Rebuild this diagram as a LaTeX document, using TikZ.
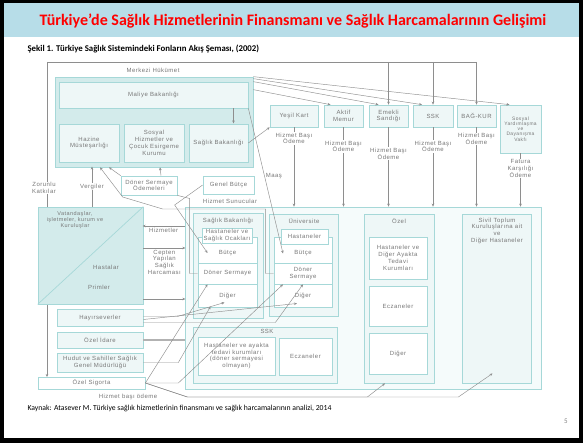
\documentclass[tikz,border=0pt]{standalone}
\usepackage{fontspec}
\setmainfont{Carlito}
\newfontfamily\dgfont[LetterSpace=8]{Liberation Sans}
\newcommand{\dgtext}{\dgfont\fontsize{6}{6.8}\selectfont}
\newcommand{\dgsmall}{\dgfont\fontsize{4.9}{5.2}\selectfont}
\newcommand{\dgmid}{\dgfont\fontsize{5.5}{6.3}\selectfont}
\usetikzlibrary{arrows.meta}
\definecolor{tealb}{HTML}{A6D8D8}
\definecolor{tealbg}{HTML}{D3EBEB}
\definecolor{palebg}{HTML}{EEF7F7}
\definecolor{outerbg}{HTML}{F5FBFB}
\definecolor{txtgray}{HTML}{777777}
\definecolor{linegray}{HTML}{8E8E8E}
\definecolor{titlebg}{HTML}{B7DDE8}

\begin{document}
\begin{tikzpicture}[x=1pt,y=-1pt,
    frame/.style={draw=tealb, line width=0.7pt},
    box/.style={frame, fill=white, font=\dgtext, text=txtgray, align=center, inner sep=0.5pt},
    grp/.style={frame, fill=palebg},
    cont/.style={frame, fill=tealbg},
    lbl/.style={font=\dgtext, text=txtgray, align=center, inner sep=0.6pt},
    line/.style={draw=linegray, line width=0.45pt},
    arr/.style={line, -{Stealth[length=3pt,width=2.6pt]}},
    sz/.style 2 args={minimum width=#1, minimum height=#2}]
  \useasboundingbox (0,0) rectangle (583,443);
  % slide
  \fill[black] (0,0) rectangle (583,443);
  \fill[white] (4,3) rectangle (579,438);
  \fill[titlebg] (4,3) rectangle (579,37);
  \node[font=\fontsize{16}{18}\selectfont\bfseries, text=red] (title) at (293,21)
    {Türkiye’de Sağlık Hizmetlerinin Finansmanı ve Sağlık Harcamalarının Gelişimi};
  \node[anchor=west, font=\fontsize{8.8}{10}\selectfont\bfseries] (sekil) at (24,48.5)
    {Şekil 1. Türkiye Sağlık Sistemindeki Fonların Akış Şeması, (2002)};
  \node[anchor=west, font=\fontsize{7.7}{9}\selectfont] (kaynak) at (24,408)
    {Kaynak: Atasever M. Türkiye sağlık hizmetlerinin finansmanı ve sağlık harcamalarının analizi, 2014};
  \node[font=\fontsize{7}{8}\selectfont, text=gray] (sayfa) at (566,421) {5};

  % zorunlu katkilar
  \coordinate (zk) at (47,62);
  \coordinate (zkend) at (47,377);
  \draw[arr] (zk) -- (zkend) node[lbl, fill=white, pos=0.4, xshift=-3pt] (zorunlu) {Zorunlu\\Katkılar};

  % merkezi hukumet
  \node[cont, sz={198}{90}] (merkezi) at (154,122) {};
  \node[lbl] (merkezilbl) at (153,70) {Merkezi Hükümet};
  \node[box, fill=palebg, sz={189}{26}] (maliye) at (153.5,95) {Maliye Bakanlığı};
  \node[box, fill=palebg, sz={60}{38}] (hazine) at (89,143) {Hazine\\Müsteşarlığı};
  \node[box, fill=palebg, sz={60}{38}] (shcek) at (154,143) {Sosyal\\Hizmetler ve\\Çocuk Esirgeme\\Kurumu};
  \node[box, fill=palebg, sz={59}{38}] (sbak) at (218.5,143) {Sağlık Bakanlığı};

  % finansman kurumlari
  \node[box, fill=palebg, sz={48}{22}] (yesil) at (294,116) {Yeşil Kart};
  \node[box, fill=palebg, sz={39}{22}] (aktif) at (343.5,116) {Aktif\\Memur};
  \node[box, fill=palebg, sz={39}{22}] (emekli) at (388.5,116) {Emekli\\Sandığı};
  \node[box, fill=palebg, sz={40}{22}] (ssk) at (433,116) {SSK};
  \node[box, fill=palebg, sz={39}{22}] (bagkur) at (476.5,116) {BAĞ-KUR};
  \node[box, fill=palebg, sz={41}{48}, font=\dgsmall] (sydv) at (520.5,129) {Sosyal\\Yardımlaşma\\ve\\Dayanışma\\Vakfı};

  % hizmet sunucular
  \node[grp, fill=outerbg, sz={356}{182}] (hizsun) at (363,298) {};
  \node[lbl] (hizsunlbl) at (230,201) {Hizmet Sunucular};

  \node[grp, sz={70}{105}] (sbgrp) at (228,265.5) {};
  \node[lbl] (sbgrplbl) at (228,221) {Sağlık Bakanlığı};
  \draw[frame, fill=white] (198,237) rectangle (257,307);
  \node[box, sz={50}{15}] (sbhast) at (227,235.5) {Hastaneler ve\\Sağlık Ocakları};
  \node[box, draw=none, fill=none, sz={59}{20}] (sbbutce) at (227.5,253) {Bütçe};
  \node[box, sz={59}{21}] (sbdoner) at (227.5,273.5) {Döner Sermaye};
  \node[box, sz={59}{23}] (sbdiger) at (227.5,295.5) {Diğer};

  \node[grp, sz={69}{102}] (unigrp) at (303.5,265) {};
  \node[lbl] (unigrplbl) at (304,221) {Üniversite};
  \draw[frame, fill=white] (274,237) rectangle (332,307);
  \node[box, sz={47}{15}] (unihast) at (304.5,236.5) {Hastaneler};
  \node[box, draw=none, fill=none, sz={58}{19}] (unibutce) at (303,253.5) {Bütçe};
  \node[box, sz={58}{21}] (unidoner) at (303,273.5) {Döner\\Sermaye};
  \node[box, sz={58}{23}] (unidiger) at (303,295.5) {Diğer};

  \node[grp, sz={144}{56}] (sskgrp) at (265,355) {};
  \node[lbl] (sskgrplbl) at (267,331.5) {SSK};
  \node[box, sz={77}{38}] (sskhast) at (236.5,356) {Hastaneler ve ayakta\\tedavi kurumları\\(döner sermayesi\\olmayan)};
  \node[box, sz={53}{37}] (sskecz) at (305.5,356.5) {Eczaneler};

  \node[grp, sz={70}{169}] (ozgrp) at (399,298.5) {};
  \node[lbl] (ozgrplbl) at (399,221) {Özel};
  \node[box, sz={58}{42}] (ozhast) at (398,258) {Hastaneler ve\\Diğer Ayakta\\Tedavi\\Kurumları};
  \node[box, sz={58}{40}] (ozecz) at (398,306) {Eczaneler};
  \node[box, sz={58}{41}] (ozdiger) at (398,353.5) {Diğer};

  \node[grp, sz={69}{169}] (sivilgrp) at (496.5,298.5) {};
  \node[lbl, anchor=north] (sivilgrplbl) at (497,217) {Sivil Toplum\\Kuruluşlarına ait\\ve\\Diğer Hastaneler};

  % sol taraf
  \node[cont, sz={105}{97}] (vatan) at (90.5,255.5) {};
  \draw[frame] (vatan.south west) -- (vatan.north east);
  \node[lbl, font=\dgmid] (vatanlbl) at (75,220) {Vatandaşlar,\\işletmeler, kurum ve\\Kuruluşlar};
  \node[lbl] (hastalar) at (106,267) {Hastalar};
  \node[lbl] (primler) at (99,287) {Primler};

  \node[box, fill=palebg, sz={86}{17}] (hayir) at (100,317.5) {Hayırseverler};
  \node[box, fill=palebg, sz={86}{16}] (ozelidare) at (100,340) {Özel İdare};
  \node[box, fill=palebg, sz={86}{19}] (hudut) at (100,362.5) {Hudut ve Sahiller Sağlık\\Genel Müdürlüğü};
  \node[box, sz={107}{12}] (ozsig) at (91.5,383) {Özel Sigorta};

  \node[box, sz={56}{19}] (dso) at (149,185.5) {Döner Sermaye\\Ödemeleri};
  \node[box, sz={51}{18}] (genel) at (228.5,185) {Genel Bütçe};

  % akislar: merkezi hukumet
  \draw[arr] ([xshift=80pt]maliye.south) -- ++(0,15);
  \draw[arr] (sbak.east) -- (yesil.south west);
  \draw[arr] (merkezi.north east) -- ([xshift=-11pt]sydv.north);
  \draw[arr] ([yshift=-2pt]merkezi.north east) -- ([xshift=-11pt]ssk.north);
  \draw[arr] ([yshift=-5pt]merkezi.north east) -- ([xshift=-10pt]emekli.north);
  \draw[arr] ([yshift=-13pt]merkezi.north east) -- ([xshift=-13pt]aktif.north);
  \draw[line] (zk) -- (zk -| bagkur.north);
  \foreach \n in {emekli,ssk,bagkur}
    \draw[arr] (zk -| \n.north) -- (\n.north);

  % hizmet basi odeme
  \draw[arr] (yesil.south) -- (yesil.south |- hizsun.north)
    node[lbl, fill=white, pos=0.14] (yesilpay) {Hizmet Başı\\Ödeme};
  \draw[arr] (aktif.south) -- (aktif.south |- hizsun.north)
    node[lbl, fill=white, pos=0.24] (aktifpay) {Hizmet Başı\\Ödeme};
  \draw[arr] (emekli.south) -- (emekli.south |- hizsun.north)
    node[lbl, fill=white, pos=0.33] (emeklipay) {Hizmet Başı\\Ödeme};
  \draw[arr] (ssk.south) -- (ssk.south |- hizsun.north)
    node[lbl, fill=white, pos=0.24] (sskpay) {Hizmet Başı\\Ödeme};
  \draw[arr] (bagkur.south) -- (bagkur.south |- hizsun.north)
    node[lbl, fill=white, pos=0.15] (bagkurpay) {Hizmet Başı\\Ödeme};
  \draw[arr] (sydv.south) -- (sydv.south |- hizsun.north)
    node[lbl, fill=white, pos=0.28] (sydvpay) {Fatura\\Karşılığı\\Ödeme};

  % butce ve doner sermaye
  \draw[arr] (maliye.south east) -- ([xshift=-20pt]unibutce.center);
  \node[lbl, anchor=west] (maas) at (265,176) {Maaş};
  \draw[arr] ([xshift=1.5pt]vatan.north) -- ++(0,-40)
    node[lbl, fill=white, pos=0.5] (vergiler) {Vergiler};
  \draw[arr] (dso.north west) -- ([xshift=-45pt]merkezi.south);
  \draw[arr] ([xshift=12pt]dso.north) -- ([xshift=6pt]merkezi.south);
  \draw[line] (sbdoner.west) -- ++(-8,0) -- ++(0,-75) -- (dso.south east);
  \draw[arr] (unidoner.west) -- ++(-8,0) -- ++(0,-64.5) -- ++(-103,0) -- ++(-40,-12)
    -- ([xshift=-54pt]merkezi.south);
  \draw[arr] (genel.west) -- ++(-28,20) -- ([xshift=-20pt]sbbutce.center);

  % vatandaslar
  \draw[arr] (hizsun.west) ++(0,-72) -- ++(-42,0)
    node[lbl, midway, below=1pt] (hizmetler) {Hizmetler};
  \draw[arr] (vatan.east) ++(0,-7.5) -- ++(42,0)
    node[lbl, midway, below=1pt] (cepten) {Cepten\\Yapılan\\Sağlık\\Harcaması};
  \draw[arr] (vatan.east) ++(0,43.5) -- ++(42,0);

  % diger kaynaklar
  \draw[line, line width=1.3pt, draw=gray!60] (ozelidare.east) -- (ozelidare.east -| hizsun.west);
  \draw[arr] ([yshift=1pt]hayir.east) -- ++(34,0) -- ([shift={(-3pt,-7pt)}]sbdiger.center);
  \draw[arr] ([yshift=-2pt]hayir.east) -- ([shift={(-6pt,-8pt)}]unidiger.center);
  \draw[arr] ([yshift=-5pt]hayir.east) -- ++(132,0) -- (unidoner.south);
  \draw[arr] (hudut.east) -- ++(35,0) -- ([shift={(-17pt,-11pt)}]sbdiger.center);
  \draw[arr] (ozsig.east) -- ([xshift=-20pt]sbdoner.south);
  \draw[arr] (ozsig.east) -- ++(33,0) -- ([xshift=-20pt]unidoner.south);
  \draw[arr] (ozsig.east) -- ++(42,14) -- ++(180,0) -- ([xshift=-14pt]ozgrp.south);
  \draw[arr] (ozsig.east) -- ++(42,14) -- ++(271,0) -- ([shift={(-4pt,-75pt)}]sivilgrp.center);
  \node[lbl] (hbo) at (128,397) {Hizmet başı ödeme};
\end{tikzpicture}
\end{document}
